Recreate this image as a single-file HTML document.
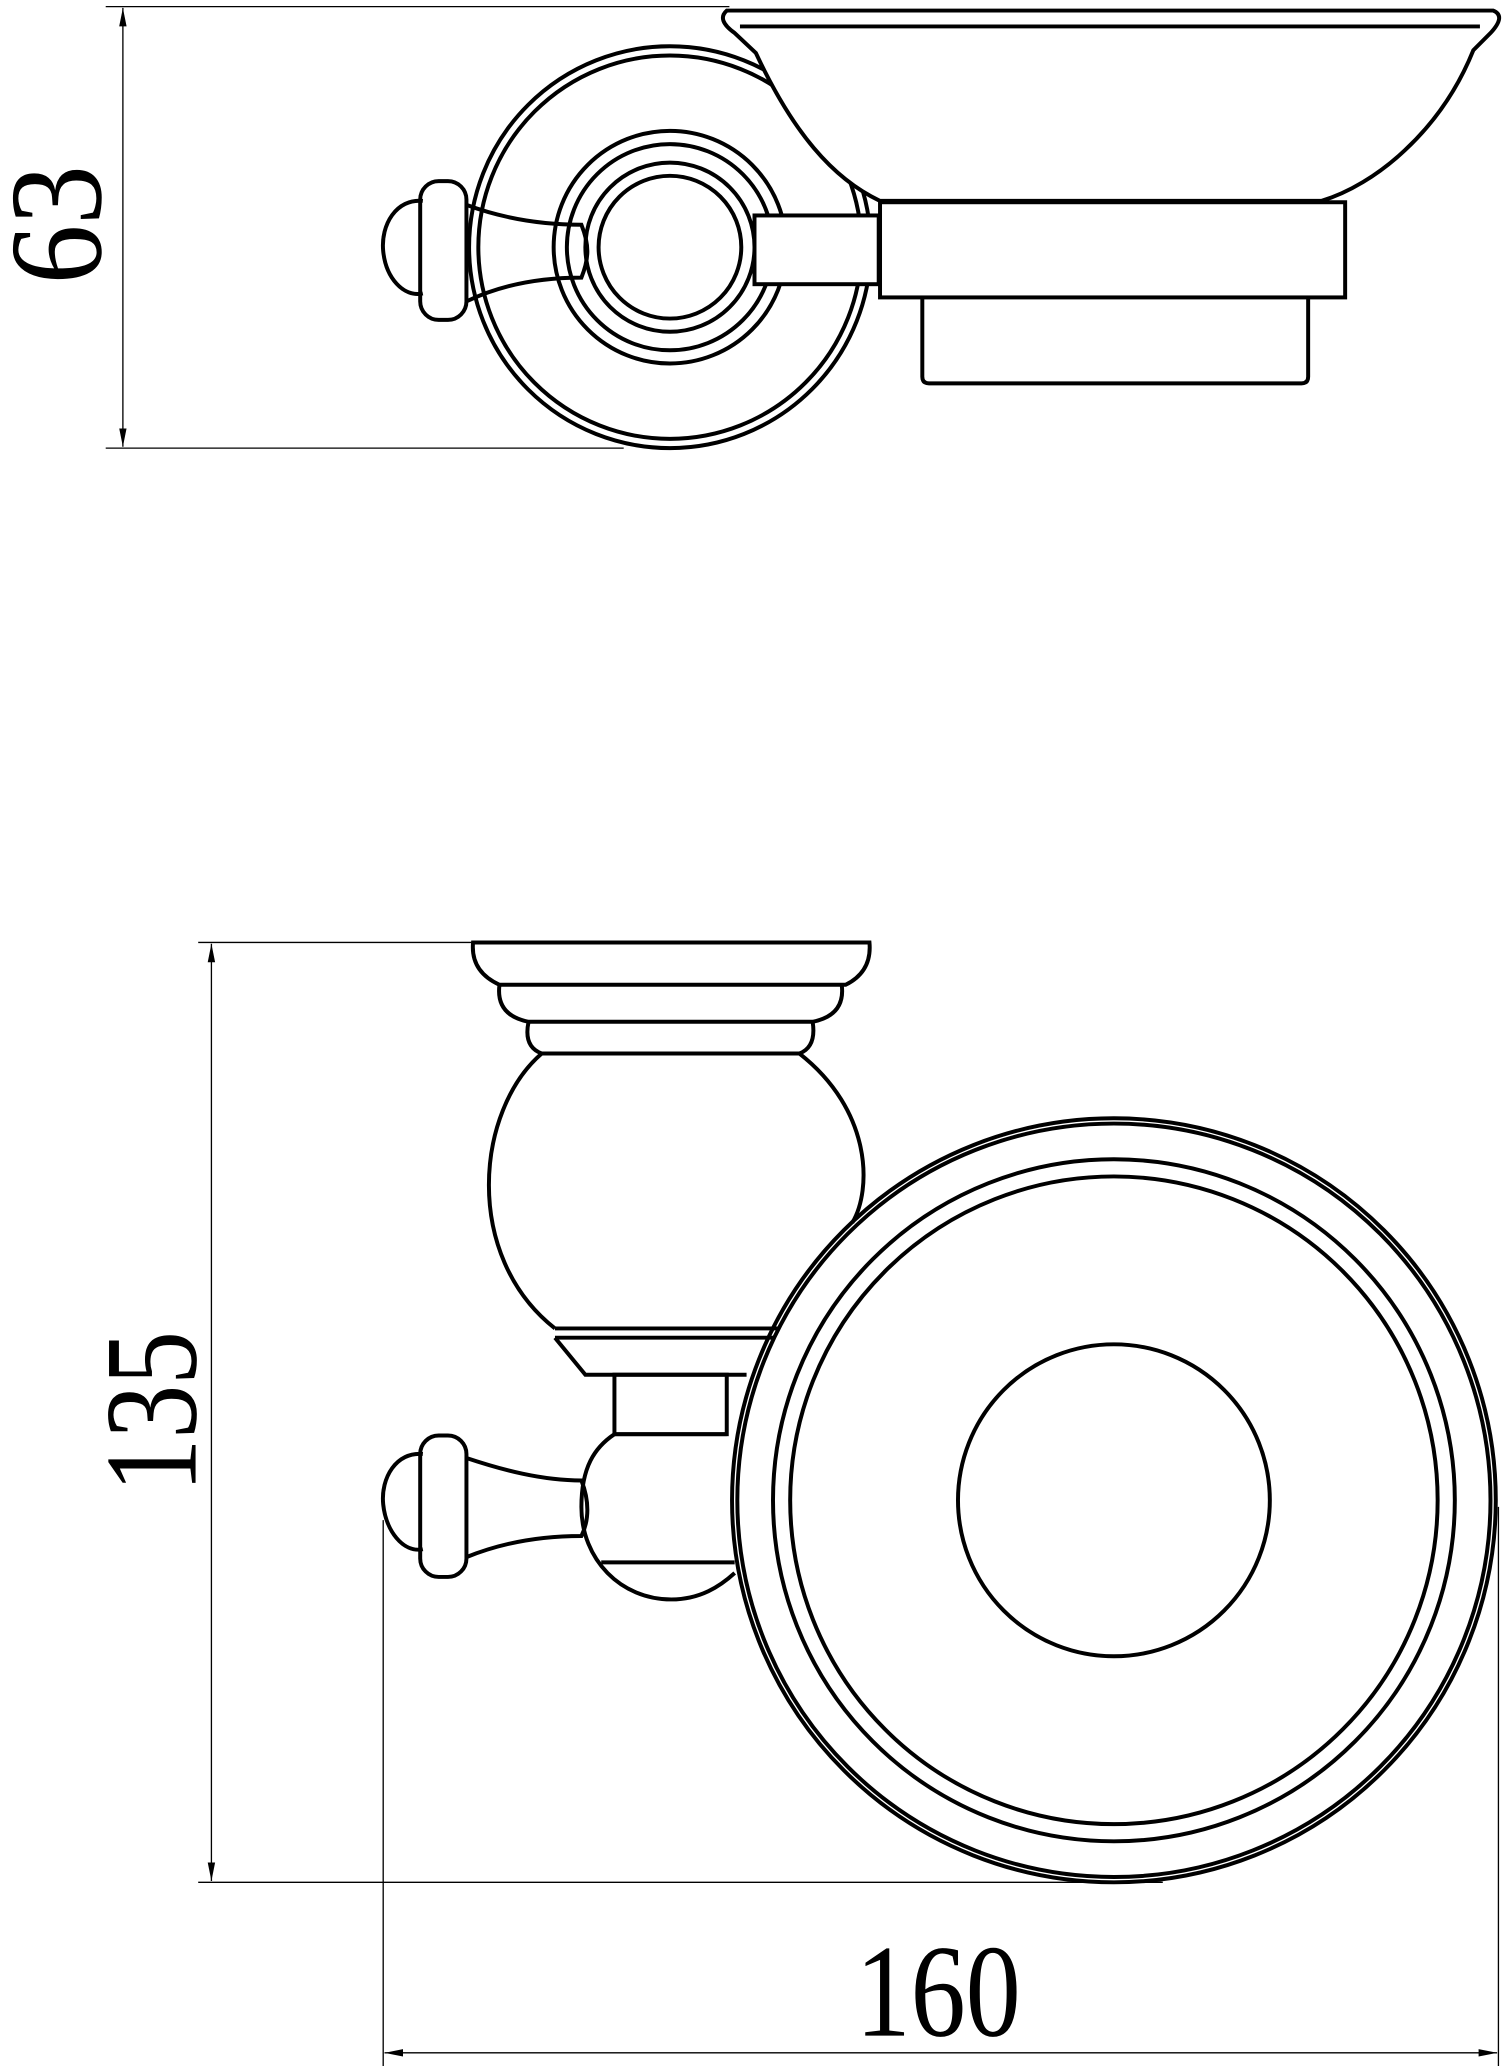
<!DOCTYPE html>
<html><head><meta charset="utf-8"><style>
html,body{margin:0;padding:0;background:#fff;}
svg{display:block;}
text{font-family:"Liberation Serif",serif;fill:#000;}
</style></head><body>
<svg width="1509" height="2070" viewBox="0 0 1142 1566" preserveAspectRatio="none" xmlns="http://www.w3.org/2000/svg">
<defs>
<marker id="a" viewBox="0 0 10 10" refX="10" refY="5" markerWidth="14" markerHeight="14" orient="auto-start-reverse" markerUnits="userSpaceOnUse"><path d="M0,3 L10,5 L0,7 z" fill="#000"/></marker>
</defs>
<g fill="none" stroke="#000" stroke-width="1">
<line x1="80" y1="5" x2="552" y2="5"/>
<line x1="80" y1="339" x2="472" y2="339"/>
<line x1="93" y1="6" x2="93" y2="338" marker-start="url(#a)" marker-end="url(#a)"/>
<line x1="150" y1="713" x2="360" y2="713"/>
<line x1="150" y1="1424" x2="880" y2="1424"/>
<line x1="160" y1="714" x2="160" y2="1423" marker-start="url(#a)" marker-end="url(#a)"/>
<line x1="290" y1="1150" x2="290" y2="1563"/>
<line x1="1134" y1="1140" x2="1134" y2="1563"/>
<line x1="291" y1="1553" x2="1133" y2="1553" marker-start="url(#a)" marker-end="url(#a)"/>
</g>
<g fill="none" stroke="#000" stroke-width="3">
<circle cx="507" cy="187" r="152"/>
<circle cx="507" cy="187" r="145"/>
<circle cx="507" cy="187" r="88"/>
<circle cx="507" cy="187" r="78"/>
<circle cx="507" cy="187" r="64"/>
<circle cx="507" cy="187" r="54"/>
<path d="M320,152 C300,150 288,170 290,190 C292,210 305,225 320,222"/>
<rect x="318" y="137" width="35" height="105" rx="14"/>
<path d="M353,155 C380,165 410,170 440,170 C446,185 446,195 440,210 C410,210 380,215 353,228"/>
<rect x="571" y="163" width="94" height="52" fill="#fff"/>
<path d="M550,8 L1130,8 Q1140,12 1128,25 L1115,38 C1090,100 1040,140 1000,152 L666,152 C630,135 600,100 572,40 L556,25 Q542,15 550,8 z" fill="#fff"/>
<rect x="666" y="153" width="352" height="72" fill="#fff"/>
<path d="M698,225 L698,285 Q698,290 703,290 L985,290 Q990,290 990,285 L990,225"/>
<path d="M560,20 L1120,20"/>
<circle cx="843" cy="1135" r="289"/>
<circle cx="843" cy="1135" r="285"/>
<circle cx="843" cy="1135" r="258"/>
<circle cx="843" cy="1135" r="245"/>
<circle cx="843" cy="1135" r="118"/>
<path d="M358,713 L658,713 Q660,735 640,745 L378,745 Q356,735 358,713 z"/>
<path d="M378,745 Q375,768 400,773 L615,773 Q640,768 637,745"/>
<path d="M400,773 Q396,792 410,797 L605,797 Q618,792 615,773"/>
<path d="M410,797 C360,840 350,950 420,1005 M605,797 C660,840 660,900 645,925"/>
<path d="M420,1005 L590,1005 M420,1012 L585,1012"/>
<path d="M420,1012 L443,1040 L565,1040"/>
<rect x="465" y="1040" width="85" height="45"/>
<path d="M465,1085 C450,1095 440,1110 440,1140 C440,1180 470,1210 508,1210 C530,1210 545,1200 556,1190"/>
<path d="M455,1182 L556,1182 M465,1085 L550,1085"/>
<path d="M320,1100 C300,1098 288,1118 290,1138 C292,1158 305,1175 320,1172"/>
<rect x="318" y="1086" width="35" height="107" rx="14"/>
<path d="M353,1103 C380,1112 410,1120 440,1120 C446,1135 446,1150 440,1162 C410,1162 380,1167 353,1178"/>
</g>
<text transform="translate(76,170) rotate(-90)" font-size="100" text-anchor="middle" textLength="90" lengthAdjust="spacingAndGlyphs">63</text>
<text transform="translate(148,1068) rotate(-90)" font-size="100" text-anchor="middle" textLength="122" lengthAdjust="spacingAndGlyphs">135</text>
<text x="710" y="1540" font-size="100" text-anchor="middle" textLength="125" lengthAdjust="spacingAndGlyphs">160</text>
</svg>
</body></html>
